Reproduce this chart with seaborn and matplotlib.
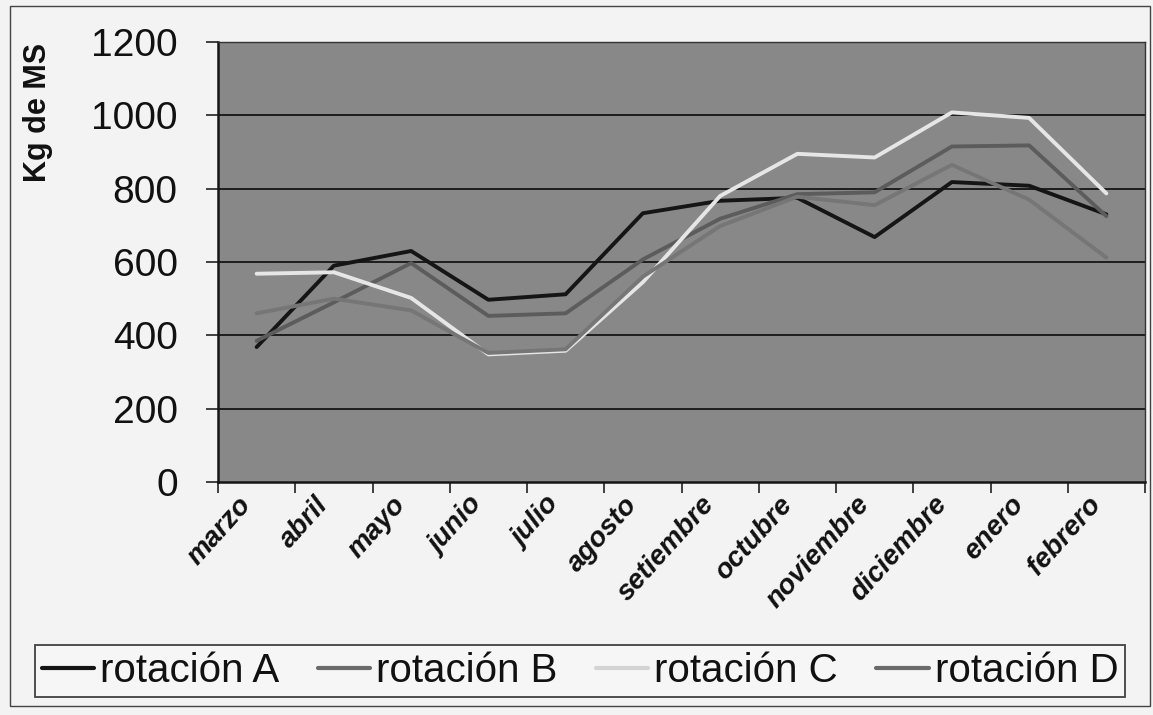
import matplotlib
matplotlib.use("Agg")
import matplotlib.pyplot as plt
from matplotlib.patches import Rectangle
from matplotlib.lines import Line2D
from matplotlib.ticker import FixedLocator
import numpy as np
import pandas as pd
import seaborn as sns

# Monthly forage supply per rotation (kg of dry matter)
meses = ["marzo", "abril", "mayo", "junio", "julio", "agosto", "setiembre",
         "octubre", "noviembre", "diciembre", "enero", "febrero"]
rotacion_a = [368, 590, 630, 497, 512, 733, 767, 775, 668, 818, 808, 730]
rotacion_b = [385, 490, 597, 453, 460, 607, 718, 785, 790, 915, 918, 725]
rotacion_c = [568, 572, 502, 348, 358, 545, 780, 895, 885, 1008, 993, 787]
rotacion_d = [460, 500, 468, 352, 362, 560, 698, 778, 755, 865, 770, 612]
series_names = ["rotación A", "rotación B", "rotación C", "rotación D"]
y_ticks = [0, 200, 400, 600, 800, 1000, 1200]

colores = {"rotación A": "#151515", "rotación B": "#5c5c5c",
           "rotación C": "#e6e6e6", "rotación D": "#767676"}
legend_colores = {"rotación A": "#151515", "rotación B": "#6a6a6a",
                  "rotación C": "#d4d4d4", "rotación D": "#6a6a6a"}

frames = []
for name, vals in zip(series_names, [rotacion_a, rotacion_b, rotacion_c, rotacion_d]):
    frames.append(pd.DataFrame({"pos": np.arange(len(meses)), "mes": meses,
                                "kg": vals, "serie": name}))
df = pd.concat(frames, ignore_index=True)

sns.set_style("white")
plt.rcParams["font.family"] = ["Liberation Sans", "DejaVu Sans"]

W, H = 1153, 715
fig = plt.figure(figsize=(W / 100, H / 100), dpi=100, facecolor="#f3f3f3")
ax = fig.add_axes([218 / W, 1 - 482 / H, (1145 - 218) / W, (482 - 42) / H])
ax.set_facecolor("#888888")

# horizontal gridlines
for v in y_ticks[1:-1]:
    ax.axhline(v, color="#1e1e1e", lw=1.4, zorder=1)

sns.lineplot(data=df, x="pos", y="kg", hue="serie", palette=colores,
             hue_order=series_names, lw=2.8, sort=False, legend=False,
             ax=ax, zorder=3)

ax.set_xlim(-0.5, len(meses) - 0.5)
ax.set_ylim(0, 1200)
ax.set_yticks(y_ticks)
ax.set_yticklabels([str(v) for v in y_ticks], fontsize=28, color="#111111")
ax.set_xticks(np.arange(len(meses)))
ax.set_xticklabels(meses, rotation=48, ha="right", va="top",
                   fontsize=20, fontweight="bold", fontstyle="italic",
                   color="#111111")
ax.xaxis.set_minor_locator(FixedLocator(np.arange(len(meses) + 1) - 0.5))
ax.tick_params(axis="x", which="major", length=0, pad=7)
ax.tick_params(axis="x", which="minor", length=8, width=1.2, color="#222222",
               direction="out", bottom=True)
ax.tick_params(axis="y", which="major", length=9, width=1.2, color="#222222",
               direction="out", left=True, pad=20)
ax.set_xlabel("")
ax.set_ylabel("Kg de MS", fontsize=22, fontweight="bold", color="#111111")
ax.yaxis.set_label_coords(-0.178, 0.84)

for side in ["left", "bottom"]:
    ax.spines[side].set_color("#151515")
    ax.spines[side].set_linewidth(1.8)
for side in ["top", "right"]:
    ax.spines[side].set_color("#333333")
    ax.spines[side].set_linewidth(1.0)

handles = [Line2D([0], [0], color=legend_colores[n], lw=3) for n in series_names]
leg = fig.legend(handles, series_names, loc="center",
                 bbox_to_anchor=(580 / W, 1 - 671 / H), ncol=4,
                 prop={"size": 29},
                 frameon=True, fancybox=False, edgecolor="#151515",
                 handlelength=1.3, handletextpad=0.15, columnspacing=0.95,
                 borderpad=0.18)
leg.get_frame().set_linewidth(1.3)
leg.get_frame().set_facecolor("#f7f7f7")
for t in leg.get_texts():
    t.set_color("#111111")

# outer chart frame
fig.patches.append(Rectangle((10 / W, 1 - 706 / H), (1150 - 10) / W, (706 - 6) / H,
                             transform=fig.transFigure, fill=False,
                             edgecolor="#444444", lw=1.0))

fig.savefig("out.png", dpi=100, facecolor=fig.get_facecolor())
